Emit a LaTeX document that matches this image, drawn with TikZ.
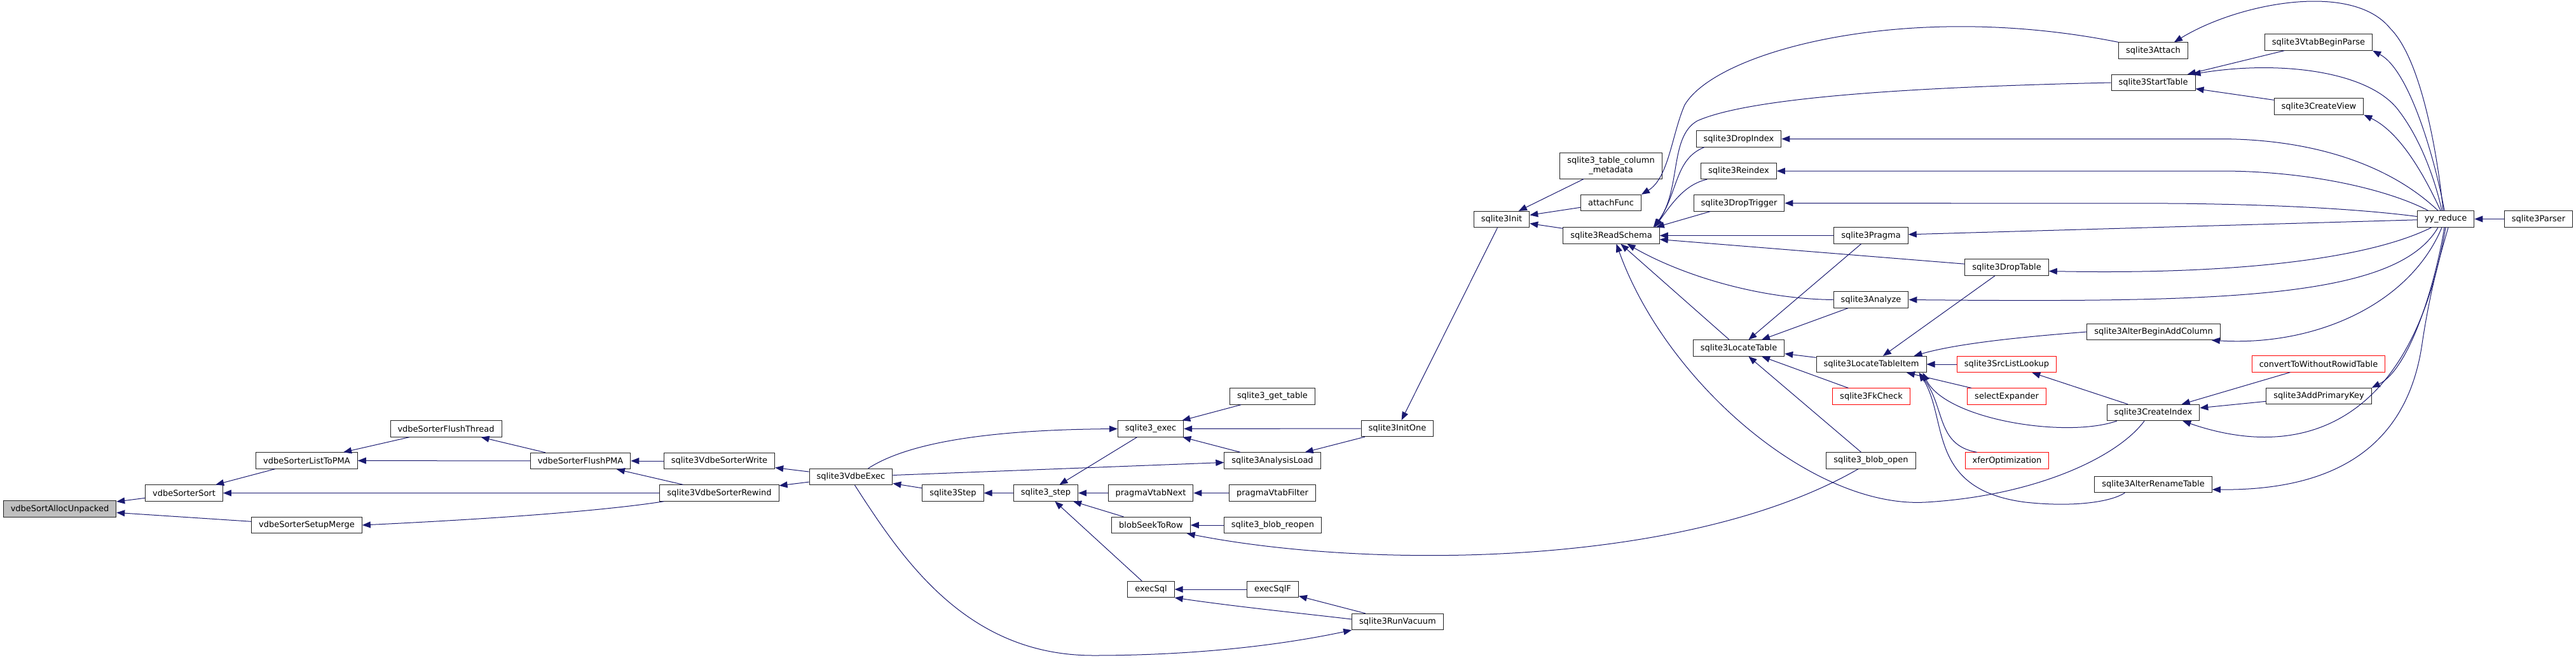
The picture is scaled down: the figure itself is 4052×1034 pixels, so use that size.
\documentclass[tikz,border=0pt]{standalone}
\usepackage{fontspec}
\setmainfont{DejaVu Sans}
\usetikzlibrary{arrows.meta}
\definecolor{edgeblue}{HTML}{191970}
\definecolor{rootgray}{HTML}{BFBFBF}
\definecolor{boxline}{HTML}{222222}
\begin{document}
\begin{tikzpicture}[x=1pt, y=-1pt,
  every node/.style={font=\fontsize{13}{15}\selectfont},
  fn/.style={draw=boxline, line width=1pt, fill=white, minimum height=25.3pt, inner xsep=11.5pt, inner ysep=0pt},
  root/.style={fn, fill=rootgray},
  trunc/.style={fn, draw=red},
  call/.style={draw=edgeblue, line width=1pt, arrows={Triangle[length=13pt,width=10pt]-}}]
\useasboundingbox (0,0) rectangle (4052,1034);
\node[root] (alloc) at (94,800.5) {vdbeSortAllocUnpacked};
\node[fn] (sort) at (289.5,775.5) {vdbeSorterSort};
\node[fn] (listtopma) at (482.5,724.5) {vdbeSorterListToPMA};
\node[fn] (setupmerge) at (482.5,826) {vdbeSorterSetupMerge};
\node[fn] (flushthread) at (701.5,674.5) {vdbeSorterFlushThread};
\node[fn] (flushpma) at (913,725) {vdbeSorterFlushPMA};
\node[fn] (sorterwrite) at (1131.5,725) {sqlite3VdbeSorterWrite};
\node[fn] (sorterrewind) at (1131.5,775.5) {sqlite3VdbeSorterRewind};
\node[fn] (vdbeexec) at (1338.5,750) {sqlite3VdbeExec};
\node[fn] (step) at (1499,775.5) {sqlite3Step};
\node[fn] (apistep) at (1645,775.5) {sqlite3\_step};
\node[fn] (exec) at (1810,674.5) {sqlite3\_exec};
\node[fn] (vtabnext) at (1810,775.5) {pragmaVtabNext};
\node[fn] (seekrow) at (1810.5,826) {blobSeekToRow};
\node[fn] (execsql) at (1810.5,927) {execSql};
\node[fn] (gettable) at (2001.5,623.5) {sqlite3\_get\_table};
\node[fn] (analysisload) at (2001.5,724.5) {sqlite3AnalysisLoad};
\node[fn] (vtabfilter) at (2001.5,775.5) {pragmaVtabFilter};
\node[fn] (blobreopen) at (2002,826) {sqlite3\_blob\_reopen};
\node[fn] (execsqlf) at (2002,927) {execSqlF};
\node[fn] (initone) at (2198,674) {sqlite3InitOne};
\node[fn] (vacuum) at (2198.5,978) {sqlite3RunVacuum};
\node[fn] (init) at (2362,345) {sqlite3Init};
\node[fn, minimum height=41pt, align=center] (colmeta) at (2534,260.5) {sqlite3\_table\_column\\\_metadata};
\node[fn] (attachfunc) at (2534,319) {attachFunc};
\node[fn] (readschema) at (2534.5,370.5) {sqlite3ReadSchema};
\node[fn] (dropindex) at (2735,218.5) {sqlite3DropIndex};
\node[fn] (reindex) at (2735,269) {sqlite3Reindex};
\node[fn] (droptrigger) at (2735.5,319.5) {sqlite3DropTrigger};
\node[fn] (locatetable) at (2735,547.5) {sqlite3LocateTable};
\node[fn] (pragma) at (2943,370.5) {sqlite3Pragma};
\node[fn] (analyze) at (2943,471.5) {sqlite3Analyze};
\node[fn] (locateitem) at (2943.5,573) {sqlite3LocateTableItem};
\node[trunc] (fkcheck) at (2943.5,623.5) {sqlite3FkCheck};
\node[fn] (blobopen) at (2943,724.5) {sqlite3\_blob\_open};
\node[fn] (droptable) at (3156.5,420.5) {sqlite3DropTable};
\node[trunc] (srclookup) at (3156.5,573) {sqlite3SrcListLookup};
\node[trunc] (selexpand) at (3156.5,623.5) {selectExpander};
\node[trunc] (xfer) at (3157,724.5) {xferOptimization};
\node[fn] (attach) at (3387,79.5) {sqlite3Attach};
\node[fn] (starttable) at (3387,130) {sqlite3StartTable};
\node[fn] (addcolumn) at (3387.5,522) {sqlite3AlterBeginAddColumn};
\node[fn] (createindex) at (3387,649) {sqlite3CreateIndex};
\node[fn] (renametable) at (3387,762) {sqlite3AlterRenameTable};
\node[fn] (vtabparse) at (3647,66.5) {sqlite3VtabBeginParse};
\node[fn] (createview) at (3647.5,167.5) {sqlite3CreateView};
\node[trunc] (withoutrowid) at (3647,572.5) {convertToWithoutRowidTable};
\node[fn] (primarykey) at (3647.5,623) {sqlite3AddPrimaryKey};
\node[fn] (yyreduce) at (3847,344.5) {yy\_reduce};
\node[fn] (parser) at (3993,344.5) {sqlite3Parser};
\draw[call] (alloc) -- (sort);
\draw[call] (alloc) -- (setupmerge);
\draw[call] (sort) -- (listtopma);
\draw[call] (sort) -- (sorterrewind);
\draw[call] (listtopma) -- (flushthread);
\draw[call] (listtopma) -- (flushpma);
\draw[call] (flushthread) -- (flushpma);
\draw[call] (flushpma) -- (sorterwrite);
\draw[call] (flushpma) -- (sorterrewind);
\draw[call] (setupmerge.east) .. controls (800,815) and (960,802) .. ([xshift=7pt]sorterrewind.south west);
\draw[call] (sorterwrite) -- (vdbeexec);
\draw[call] (sorterrewind) -- (vdbeexec);
\draw[call] (vdbeexec) -- (step);
\draw[call] (step) -- (apistep);
\draw[call] (apistep) -- (exec);
\draw[call] (apistep) -- (vtabnext);
\draw[call] (apistep) -- (seekrow);
\draw[call] (apistep) -- (execsql);
\draw[call] (exec) -- (gettable);
\draw[call] (exec) -- (initone);
\draw[call] (exec) -- (analysisload);
\draw[call] (exec.west) .. controls (1560,676) and (1430,695) .. ([xshift=27pt]vdbeexec.north);
\draw[call] (analysisload) -- (vdbeexec);
\draw[call] (analysisload) -- (initone);
\draw[call] (vtabnext) -- (vtabfilter);
\draw[call] (seekrow) -- (blobreopen);
\draw[call] ([xshift=-6pt]seekrow.south east) .. controls (2150,895) and (2650,895) .. ([xshift=-20pt]blobopen.south);
\draw[call] (execsql) -- (execsqlf);
\draw[call] (execsql.south east) .. controls (1950,955) and (2050,965) .. ([yshift=4pt]vacuum.west);
\draw[call] (execsqlf) -- (vacuum);
\draw[call] (vacuum.south west) .. controls (1990,1020) and (1850,1031) .. (1720,1031) .. controls (1520,1031) and (1420,880) .. ([xshift=6pt]vdbeexec.south);
\draw[call] (initone) -- (init);
\draw[call] (init) -- (colmeta);
\draw[call] (init) -- (attachfunc);
\draw[call] (init) -- (readschema);
\draw[call] (attachfunc.north east) .. controls (2625,280) and (2630,210) .. (2650,165) .. controls (2700,80) and (3000,0) .. (attach.north west);
\draw[call] ([xshift=-10pt]readschema.north east) .. controls (2645,300) and (2625,215) .. (2670,190) .. controls (2760,150) and (3050,136) .. (starttable.west);
\draw[call] ([xshift=-8pt]readschema.north east) .. controls (2640,300) and (2635,250) .. ([xshift=13pt]dropindex.south west);
\draw[call] ([xshift=-8pt]readschema.north east) .. controls (2630,320) and (2650,290) .. ([xshift=10pt]reindex.south west);
\draw[call] ([xshift=-6pt]readschema.north east) -- (droptrigger);
\draw[call] (readschema) -- (pragma);
\draw[call] (readschema) -- (droptable);
\draw[call] ([xshift=25pt]readschema.south) .. controls (2640,430) and (2760,470) .. (analyze.west);
\draw[call] (readschema) -- (locatetable);
\draw[call] ([xshift=8pt]readschema.south) .. controls (2620,600) and (2850,800) .. (3029,790) .. controls (3200,780) and (3330,720) .. ([xshift=-14pt]createindex.south);
\draw[call] (locatetable) -- (locateitem);
\draw[call] (locatetable) -- (pragma);
\draw[call] (locatetable) -- (analyze);
\draw[call] (locatetable) -- (fkcheck);
\draw[call] (locatetable) -- (blobopen);
\draw[call] (locateitem) -- (droptable);
\draw[call] ([xshift=-20pt]locateitem.north east) .. controls (3080,540) and (3180,530) .. (addcolumn.west);
\draw[call] (locateitem) -- (srclookup);
\draw[call] (locateitem) -- (selexpand);
\draw[call] ([xshift=-6pt]locateitem.south east) .. controls (3060,660) and (3250,690) .. ([xshift=16pt]createindex.south west);
\draw[call] ([xshift=-12pt]locateitem.south east) .. controls (3060,640) and (3045,700) .. ([xshift=19pt]xfer.north west);
\draw[call] ([xshift=-12pt]locateitem.south east) .. controls (3065,660) and (3030,770) .. (3186,790) .. controls (3260,798) and (3320,790) .. ([xshift=48pt]renametable.south west);
\draw[call] (srclookup) -- (createindex);
\draw[call] ([xshift=-22pt]attach.north east) .. controls (3520,5) and (3700,-30) .. (3760,45) .. controls (3810,95) and (3835,250) .. ([xshift=-4pt]yyreduce.north);
\draw[call] (starttable) -- (vtabparse);
\draw[call] ([xshift=-5pt]starttable.north east) .. controls (3580,95) and (3720,110) .. (3770,170) .. controls (3810,220) and (3832,290) .. ([xshift=-6pt]yyreduce.north);
\draw[call] (starttable) -- (createview);
\draw[call] (vtabparse.south east) .. controls (3790,110) and (3830,250) .. ([xshift=-2pt]yyreduce.north);
\draw[call] (createview.south east) .. controls (3780,210) and (3820,290) .. ([xshift=-8pt]yyreduce.north);
\draw[call] (dropindex) -- (3490,218.5) .. controls (3640,218.5) and (3760,260) .. ([xshift=-12pt]yyreduce.north);
\draw[call] (reindex) -- (3500,269) .. controls (3640,270) and (3760,300) .. ([xshift=18pt]yyreduce.north west);
\draw[call] (droptrigger) -- (3420,320) .. controls (3600,322) and (3720,330) .. ([yshift=4pt]yyreduce.west);
\draw[call] (pragma) -- (yyreduce);
\draw[call] ([yshift=-6pt]droptable.east) .. controls (3500,432) and (3720,410) .. ([xshift=-22pt]yyreduce.south);
\draw[call] (analyze.east) .. controls (3500,476) and (3770,470) .. ([xshift=-12pt]yyreduce.south);
\draw[call] ([xshift=-14pt]addcolumn.south east) .. controls (3640,545) and (3790,480) .. ([xshift=-6pt]yyreduce.south);
\draw[call] (createindex) -- (withoutrowid);
\draw[call] (createindex) -- (primarykey);
\draw[call] (primarykey.north east) .. controls (3790,580) and (3830,450) .. ([xshift=-2pt]yyreduce.south);
\draw[call] ([xshift=-27pt]createindex.south east) .. controls (3600,720) and (3790,690) .. (yyreduce.south);
\draw[call] ([yshift=-8pt]renametable.east) .. controls (3700,772) and (3790,680) .. (3810,540) .. controls (3825,440) and (3845,380) .. ([xshift=4pt]yyreduce.south);
\draw[call] (yyreduce) -- (parser);
\end{tikzpicture}
\end{document}
